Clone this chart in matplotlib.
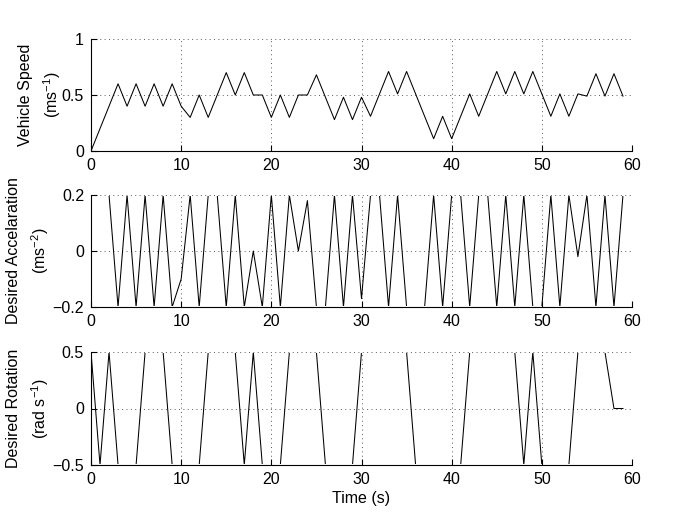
import numpy as np
import matplotlib
matplotlib.use("Agg")
import matplotlib.pyplot as plt
from matplotlib.patches import Rectangle

plt.rcParams['font.family'] = ['Liberation Sans', 'DejaVu Sans']
plt.rcParams['mathtext.fontset'] = 'custom'
plt.rcParams['mathtext.rm'] = 'Liberation Sans'
plt.rcParams['mathtext.it'] = 'Liberation Sans:italic'
plt.rcParams['mathtext.default'] = 'regular'

time_s = list(range(60))

speed = [0.0, 0.2, 0.4, 0.6, 0.4, 0.6, 0.4, 0.6, 0.4, 0.6,
         0.4, 0.3, 0.5, 0.3, 0.5, 0.7, 0.5, 0.7, 0.5, 0.5,
         0.3, 0.5, 0.3, 0.5, 0.5, 0.68, 0.48, 0.28, 0.48, 0.28,
         0.48, 0.31, 0.51, 0.71, 0.51, 0.71, 0.51, 0.31, 0.11, 0.31,
         0.11, 0.31, 0.51, 0.31, 0.51, 0.71, 0.51, 0.71, 0.51, 0.71,
         0.51, 0.31, 0.51, 0.31, 0.51, 0.49, 0.69, 0.49, 0.69, 0.49]

accel = [0.2, 0.2, 0.2, -0.2, 0.2, -0.2, 0.2, -0.2, 0.2, -0.2,
         -0.1, 0.2, -0.2, 0.2, 0.2, -0.2, 0.2, -0.2, 0.0, -0.2,
         0.2, -0.2, 0.2, 0.0, 0.18, -0.2, -0.2, 0.2, -0.2, 0.2,
         -0.17, 0.2, 0.2, -0.2, 0.2, -0.2, -0.2, -0.2, 0.2, -0.2,
         0.2, 0.2, -0.2, 0.2, 0.2, -0.2, 0.2, -0.2, 0.2, -0.2,
         -0.2, 0.2, -0.2, 0.2, -0.02, 0.2, -0.2, 0.2, -0.2, 0.2]

rotation = [0.5, -0.5, 0.5, -0.5, -0.5, -0.5, 0.5, 0.5, 0.5, -0.5,
            -0.5, -0.5, -0.5, 0.5, 0.5, 0.5, 0.5, -0.5, 0.5, -0.5,
            -0.5, -0.5, 0.5, 0.5, 0.5, 0.5, -0.5, -0.5, -0.5, -0.5,
            0.5, 0.5, 0.5, 0.5, 0.5, 0.5, -0.5, -0.5, -0.5, -0.5,
            -0.5, -0.5, 0.5, 0.5, 0.5, 0.5, 0.5, 0.5, -0.5, 0.5,
            -0.5, -0.5, -0.5, -0.5, 0.5, 0.5, 0.5, 0.5, 0.0, 0.0]

xticks = [0, 10, 20, 30, 40, 50, 60]
speed_ticks = [0, 0.5, 1]
speed_ticklabels = ['0', '0.5', '1']
accel_ticks = [-0.2, 0, 0.2]
accel_ticklabels = ['\u22120.2', '0', '0.2']
rot_ticks = [-0.5, 0, 0.5]
rot_ticklabels = ['\u22120.5', '0', '0.5']

W, H = 698, 524
fig = plt.figure(figsize=(W / 100, H / 100), dpi=100)

def add_axes(top_px, bot_px):
    left = 91 / W
    width = (632 - 91) / W
    bottom = 1 - bot_px / H
    height = (bot_px - top_px) / H
    return fig.add_axes([left, bottom, width, height])

panels = [
    (39, 151, speed, (0, 1), speed_ticks, speed_ticklabels, 'Vehicle Speed\n(ms$^{-1}$)', -1.2),
    (195, 307, accel, (-0.2, 0.2), accel_ticks, accel_ticklabels, 'Desired Accelaration\n(ms$^{-2}$)', 1),
    (352, 465, rotation, (-0.5, 0.5), rot_ticks, rot_ticklabels, 'Desired Rotation\n(rad s$^{-1}$)', 1),
]

fs = 11.5
for i, (tp, bp, data, ylim, yt, ytl, ylab, lpad) in enumerate(panels):
    ax = add_axes(tp, bp)
    line, = ax.plot(time_s, data, color='black', lw=0.75)
    # hide segments lying exactly on the limits (as in the reference rendering)
    hpx = bp - tp
    clip = Rectangle((0, 1.0 / hpx), 1, 1 - 2.3 / hpx, transform=ax.transAxes,
                     facecolor='none', edgecolor='none')
    ax.add_patch(clip)
    line.set_clip_path(clip)
    ax.set_xlim(0, 60)
    ax.set_ylim(*ylim)
    ax.set_xticks(xticks)
    ax.set_xticklabels([str(v) for v in xticks], fontsize=fs)
    ax.set_yticks(yt)
    ax.set_yticklabels(ytl, fontsize=fs)
    ax.spines['top'].set_visible(False)
    ax.spines['right'].set_visible(False)
    for s in ('left', 'bottom'):
        ax.spines[s].set_linewidth(0.8)
        ax.spines[s].set_color('black')
    ax.tick_params(direction='in', length=4, width=0.8, colors='black', pad=5)
    ax.grid(True, color='0.35', linestyle=(0, (1, 3.5)), linewidth=0.7)
    ax.set_axisbelow(True)
    ax.set_ylabel(ylab, fontsize=fs, linespacing=1.5, labelpad=lpad)
    if i == 2:
        ax.set_xlabel('Time (s)', fontsize=fs, labelpad=3)

fig.savefig('out.png', dpi=100)
